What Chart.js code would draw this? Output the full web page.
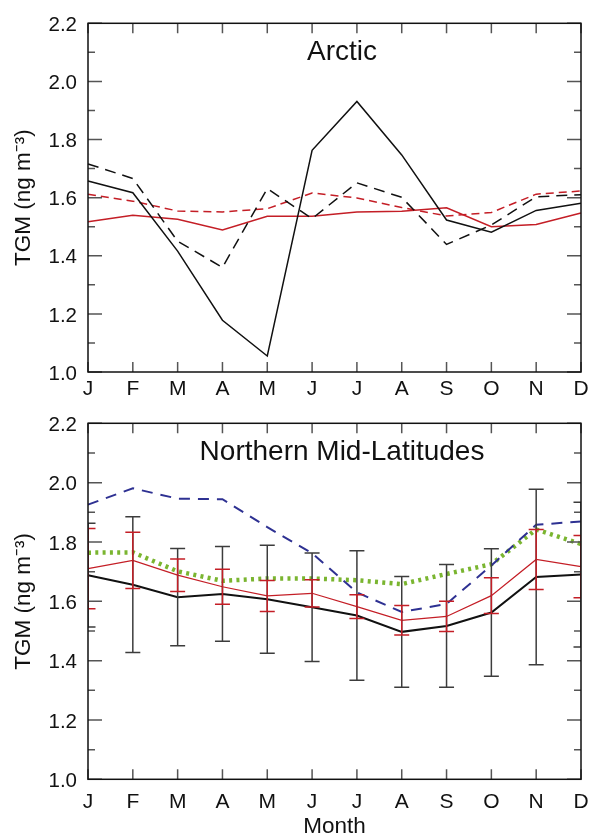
<!DOCTYPE html>
<html>
<head>
<meta charset="utf-8">
<title>TGM seasonal cycle</title>
<script src="https://cdn.jsdelivr.net/npm/chart.js@4.4.0/dist/chart.umd.min.js"></script>
<style>
  html, body { margin: 0; padding: 0; background: #fff; }
  #wrap { position: relative; width: 589px; height: 835px; overflow: hidden; }
  .panel { position: absolute; left: 0; width: 589px; }
  #topPanel { top: 0; height: 400px; }
  #botPanel { top: 400px; height: 440px; }
</style>
</head>
<body>
<div id="wrap">
  <div class="panel" id="topPanel"><canvas id="arcticChart"></canvas></div>
  <div class="panel" id="botPanel"><canvas id="midlatChart"></canvas></div>
</div>
<script>
/* ── data ── */
const MONTHS = ['J', 'F', 'M', 'A', 'M', 'J', 'J', 'A', 'S', 'O', 'N', 'D'];
const Y_TICKS = [1.0, 1.2, 1.4, 1.6, 1.8, 2.0, 2.2];
const Y_TITLE = ['TGM (ng m⁻³)'];
const TITLE_TOP = 'Arctic';
const TITLE_BOT = 'Northern Mid-Latitudes';

// Arctic
const arcticBlack = [1.657, 1.617, 1.416, 1.178, 1.055, 1.763, 1.931, 1.747, 1.523, 1.481, 1.556, 1.581];
const arcticBlackDash = [1.716, 1.666, 1.450, 1.360, 1.631, 1.528, 1.651, 1.601, 1.439, 1.506, 1.603, 1.610];
const arcticRedDash = [1.612, 1.588, 1.554, 1.551, 1.562, 1.616, 1.599, 1.566, 1.537, 1.549, 1.612, 1.623];
const arcticRed = [1.517, 1.539, 1.526, 1.489, 1.536, 1.536, 1.551, 1.553, 1.565, 1.500, 1.508, 1.547];

// Northern mid-latitudes
const midBlack = [1.688, 1.656, 1.614, 1.625, 1.607, 1.580, 1.552, 1.497, 1.517, 1.562, 1.682, 1.690];
const midBlackErr = [0.175, 0.229, 0.164, 0.160, 0.182, 0.183, 0.218, 0.187, 0.207, 0.215, 0.296, 0.244];
const midRed = [1.710, 1.738, 1.688, 1.649, 1.618, 1.627, 1.582, 1.536, 1.549, 1.619, 1.741, 1.717];
const midRedErr = [0.135, 0.095, 0.055, 0.059, 0.052, 0.046, 0.040, 0.050, 0.051, 0.060, 0.101, 0.105];
const midBlue = [1.926, 1.981, 1.946, 1.944, 1.850, 1.762, 1.630, 1.564, 1.591, 1.721, 1.858, 1.869];
const midGreen = [1.764, 1.765, 1.701, 1.669, 1.677, 1.677, 1.671, 1.658, 1.692, 1.725, 1.842, 1.793];

const FONT = "'Liberation Sans', Arial, sans-serif";
const RED = '#c41e26';
const BLUE = '#2e3192';
const GREEN = '#7ab530';

Chart.defaults.font.family = FONT;
Chart.defaults.color = '#111';

/* ── plugins ── */
// inward ticks + box frame, IDL style
const frameTicks = {
    id: 'frameTicks',
    afterDraw(chart) {
        const { ctx, chartArea: a, scales: { x, y } } = chart;
        ctx.save();
        ctx.strokeStyle = '#555';
        ctx.lineWidth = 1.5;
        ctx.beginPath();
        for (let i = 0; i < Y_TICKS.length; i++) {
            const py = y.getPixelForValue(Y_TICKS[i]);
            ctx.moveTo(a.left, py); ctx.lineTo(a.left + 14, py);
            ctx.moveTo(a.right, py); ctx.lineTo(a.right - 14, py);
            if (i < Y_TICKS.length - 1) {
                const pm = y.getPixelForValue((Y_TICKS[i] + Y_TICKS[i + 1]) / 2);
                ctx.moveTo(a.left, pm); ctx.lineTo(a.left + 7, pm);
                ctx.moveTo(a.right, pm); ctx.lineTo(a.right - 7, pm);
            }
        }
        MONTHS.forEach((m, i) => {
            const px = x.getPixelForValue(i);
            ctx.moveTo(px, a.bottom); ctx.lineTo(px, a.bottom - 10);
            ctx.moveTo(px, a.top); ctx.lineTo(px, a.top + 10);
        });
        ctx.stroke();
        ctx.strokeStyle = '#111';
        ctx.lineWidth = 1.5;
        ctx.strokeRect(a.left, a.top, a.right - a.left, a.bottom - a.top);
        ctx.restore();
    }
};

// vertical error bars with caps, read from dataset.errors
const errorBars = {
    id: 'errorBars',
    afterDatasetsDraw(chart) {
        const { ctx, chartArea: a, scales: { x, y } } = chart;
        ctx.save();
        ctx.beginPath();
        ctx.rect(a.left, a.top, a.right - a.left, a.bottom - a.top);
        ctx.clip();
        chart.data.datasets.forEach(ds => {
            if (!ds.errors) return;
            ctx.strokeStyle = ds.errorColor;
            ctx.lineWidth = 1.5;
            ctx.beginPath();
            ds.data.forEach((v, i) => {
                const px = x.getPixelForValue(i);
                const hi = y.getPixelForValue(v + ds.errors[i]);
                const lo = y.getPixelForValue(v - ds.errors[i]);
                ctx.moveTo(px, hi); ctx.lineTo(px, lo);
                ctx.moveTo(px - 7.5, hi); ctx.lineTo(px + 7.5, hi);
                ctx.moveTo(px - 7.5, lo); ctx.lineTo(px + 7.5, lo);
            });
            ctx.stroke();
        });
        ctx.restore();
    }
};

// panel name inside the plot area
const panelLabel = {
    id: 'panelLabel',
    afterDraw(chart, args, opts) {
        const { ctx, chartArea: a } = chart;
        ctx.save();
        ctx.font = '28px ' + FONT;
        ctx.fillStyle = '#111';
        ctx.textAlign = 'center';
        ctx.textBaseline = 'alphabetic';
        ctx.fillText(opts.text, a.left + 254, a.top + 37);
        ctx.restore();
    }
};

function line(data, color, width, dash, order) {
    return {
        data: data,
        borderColor: color,
        borderWidth: width,
        borderDash: dash || [],
        pointRadius: 0,
        tension: 0,
        fill: false,
        order: order
    };
}

function makeChart(canvasId, datasets, o) {
    return new Chart(document.getElementById(canvasId), {
        type: 'line',
        data: { labels: MONTHS, datasets: datasets },
        options: {
            responsive: true,
            maintainAspectRatio: false,
            animation: false,
            layout: { padding: { left: 0, right: 8, top: o.padTop, bottom: 0 } },
            plugins: {
                legend: { display: false },
                tooltip: { enabled: false },
                panelLabel: { text: o.label }
            },
            scales: {
                x: {
                    type: 'category',
                    offset: false,
                    grid: { display: false, drawTicks: false },
                    border: { display: false },
                    ticks: { font: { size: 21 }, color: '#111', padding: o.xPad, maxRotation: 0, autoSkip: false },
                    title: {
                        display: !!o.xTitle,
                        text: o.xTitle || '',
                        font: { size: 22.5 },
                        color: '#111',
                        padding: { top: 0, bottom: 0 }
                    },
                    afterFit: s => {
                        s.height = o.xHeight;
                        s.paddingLeft = 0;
                        s.paddingRight = 0;
                    }
                },
                y: {
                    min: 1.0,
                    max: 2.2,
                    grid: { display: false, drawTicks: false },
                    border: { display: false },
                    afterBuildTicks: s => { s.ticks = Y_TICKS.map(v => ({ value: v })); },
                    ticks: {
                        font: { size: 20.5 },
                        color: '#111',
                        padding: 11,
                        labelOffset: 2,
                        callback: v => Number(v).toFixed(1)
                    },
                    title: {
                        display: true,
                        text: Y_TITLE,
                        font: { size: 22.5 },
                        color: '#111',
                        padding: { top: 10, bottom: 0 }
                    },
                    afterFit: s => { s.width = 88; }
                }
            }
        },
        plugins: [errorBars, frameTicks, panelLabel]
    });
}

/* ── Arctic ── */
makeChart('arcticChart', [
    line(arcticBlack, '#111', 1.5, null, 1),
    line(arcticBlackDash, '#111', 1.5, [11, 7], 2),
    line(arcticRed, RED, 1.5, null, 3),
    line(arcticRedDash, RED, 1.5, [8, 5], 4)
], { padTop: 15, xHeight: 28, xPad: 5, label: TITLE_TOP });

/* ── Northern Mid-Latitudes ── */
const blackSet = line(midBlack, '#111', 2, null, 1);
blackSet.errors = midBlackErr;
blackSet.errorColor = '#3c3c3c';
const redSet = line(midRed, RED, 1.2, null, 2);
redSet.errors = midRedErr;
redSet.errorColor = RED;

makeChart('midlatChart', [
    blackSet,
    redSet,
    line(midBlue, BLUE, 2, [11, 8], 3),
    line(midGreen, GREEN, 4.5, [3, 4.3], 4)
], { padTop: 9.7, xHeight: 60.7, xPad: 10, xTitle: 'Month', label: TITLE_BOT });
</script>
</body>
</html>
